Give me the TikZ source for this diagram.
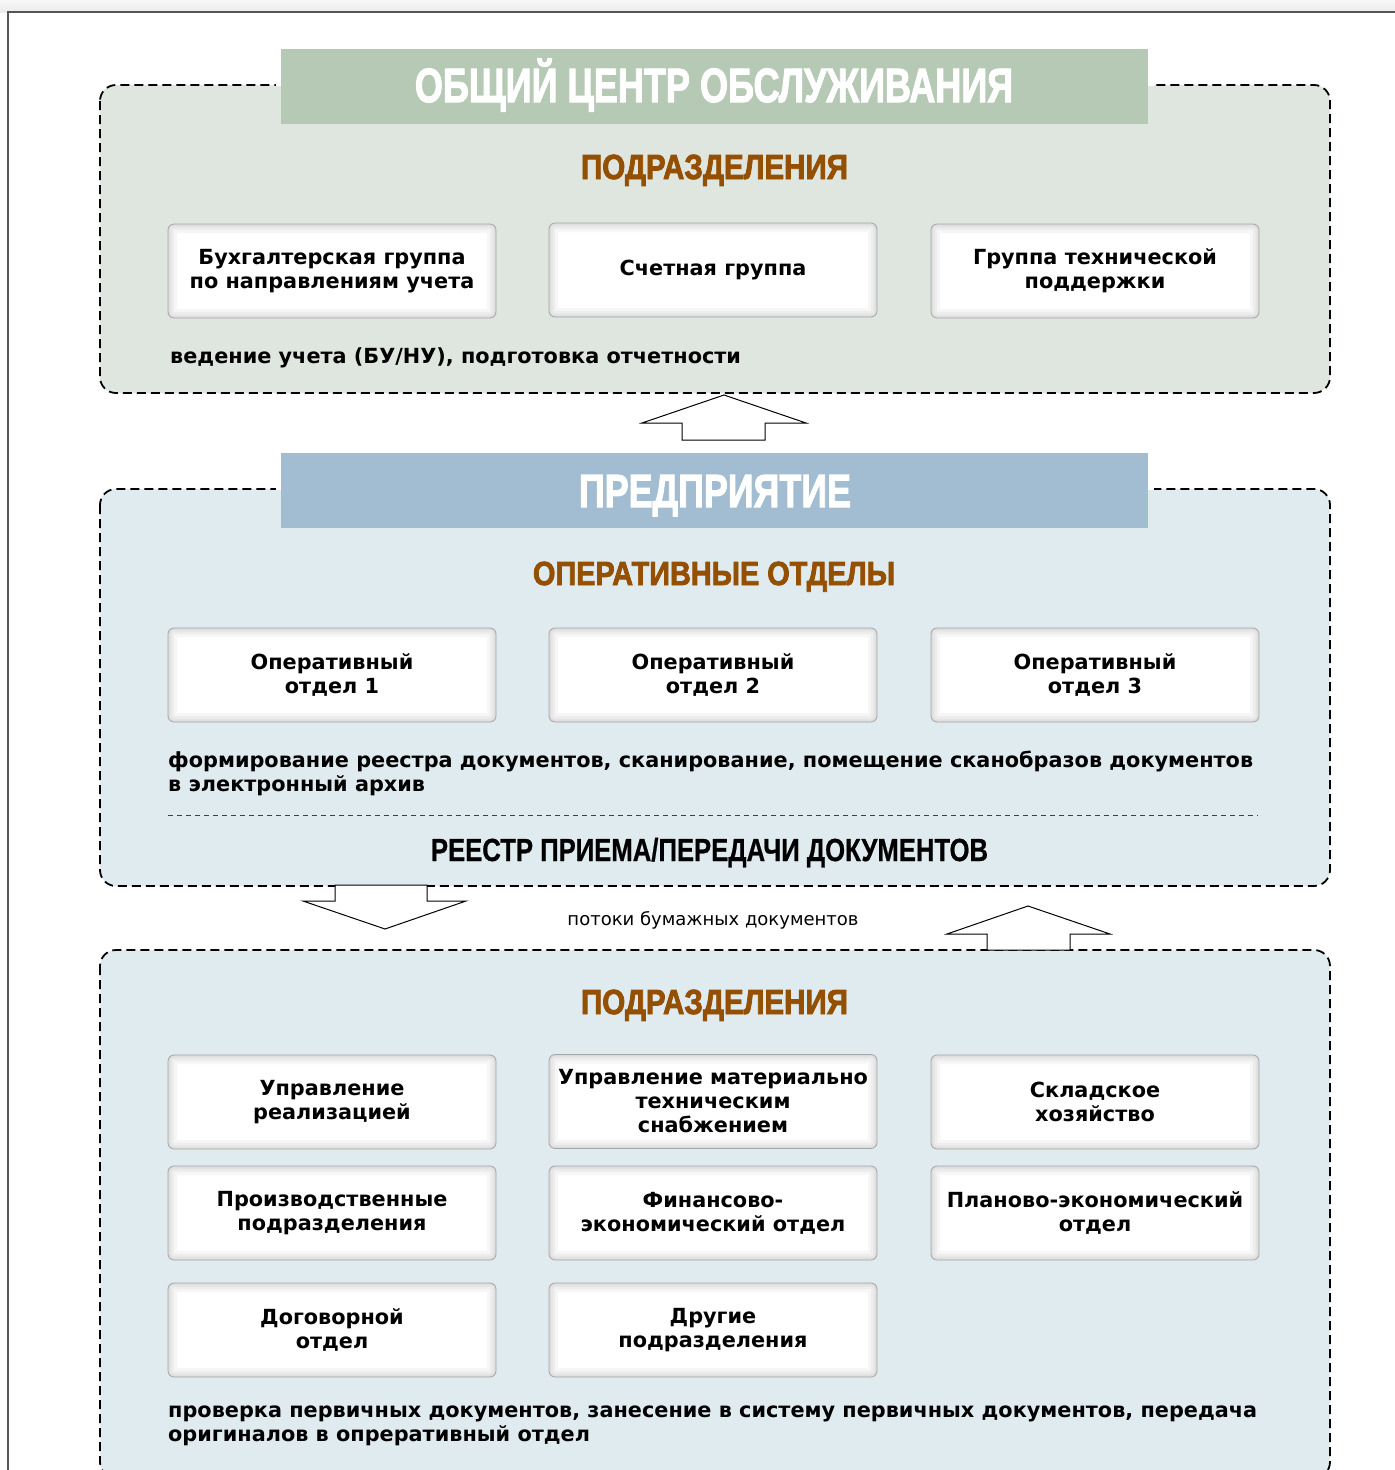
\documentclass[tikz,border=0pt]{standalone}
\usepackage{fontspec}
\usepackage{graphicx}
\setmainfont{DejaVu Sans}
\newfontfamily\hfnt{Liberation Sans}[BoldFeatures={FakeBold=2.5}]
\newfontfamily\rfnt{Liberation Sans}[BoldFeatures={FakeBold=0.8}]
\newfontfamily\bodyf{DejaVu Sans}
\definecolor{greenbg}{HTML}{DFE6DF}
\definecolor{greenhd}{HTML}{B5C9B5}
\definecolor{bluebg}{HTML}{E0EBF0}
\definecolor{bluehd}{HTML}{A2BCD1}
\definecolor{brownt}{HTML}{944F00}
\definecolor{framec}{HTML}{555555}
\newcommand\hdrtext[3]{\resizebox{#1pt}{#2pt}{\hfnt\bfseries\vphantom{H}\smash{#3}}}
\newcommand\regtext[3]{\resizebox{#1pt}{#2pt}{\rfnt\bfseries\vphantom{H}\smash{#3}}}
\newcommand\boxfont{\bodyf\bfseries\fontsize{20.8}{24}\selectfont}
\tikzset{
  panel/.style={draw=black, line width=1.8pt, dash pattern=on 9pt off 5pt, rounded corners=16pt},
  hdrband/.style={inner sep=0pt, minimum width=867pt, minimum height=75pt, draw=none},
  hdrlabel/.style={inner sep=0pt, anchor=base, text=white},
  seclabel/.style={inner sep=0pt, anchor=base, text=brownt},
  body/.style={inner sep=0pt, anchor=base west, align=left, font=\boxfont},
  ubox/.style={rounded corners=6pt, draw=black!35, line width=0.8pt, fill=white,
    minimum width=328pt, minimum height=94pt, align=center, font=\boxfont, inner sep=0pt,
    path picture={
      \foreach \w in {18,12,7,3}
        \draw[black, opacity=0.035, line width=\w pt, rounded corners=6pt]
          (path picture bounding box.north west) rectangle (path picture bounding box.south east);
    }},
  blockarrow/.style={draw=black, line width=1pt, fill=white, line join=miter}
}
\begin{document}
\begin{tikzpicture}[x=1pt, y=-1pt]
\useasboundingbox (0,0) rectangle (1395,1470);
% top strip and outer frame
\shade[top color=black!3, bottom color=black!8] (0,0) rectangle (1395,12);
\fill[white] (8,12) rectangle (1395,1470);
\draw[framec, line width=1.2pt] (8,1470) -- (8,12) -- (1395,12);

% ===== panel 1 =====
\draw[panel, fill=greenbg] (100,85) rectangle (1330,393);
\fill[white] (276,80) rectangle (1154,86.2);
\node[hdrband, fill=greenhd] (h1) at (714.5,86.5) {};
\node[hdrlabel] (h1t) at (714,102) {\hdrtext{598}{33}{ОБЩИЙ ЦЕНТР ОБСЛУЖИВАНИЯ}};
\node[seclabel] (s1) at (714.5,179) {\hdrtext{267}{24}{ПОДРАЗДЕЛЕНИЯ}};
\node[ubox] (a1) at (332,271) {Бухгалтерская группа\\по направлениям учета};
\node[ubox] (a2) at (713,270) {Счетная группа};
\node[ubox] (a3) at (1095,271) {Группа технической\\поддержки};
\node[body] (t1) at (170,363) {ведение учета (БУ/НУ), подготовка отчетности};

% arrow up between panel 1 and 2
\draw[blockarrow] (724,395) -- (806,423) -- (765,423) -- (765,440) -- (682,440) -- (682,423) -- (642,423) -- cycle;

% ===== panel 2 =====
\draw[panel, fill=bluebg] (100,489) rectangle (1330,886);
\fill[white] (276,484) rectangle (1154,490.2);
\node[hdrband, fill=bluehd] (h2) at (714.5,490) {};
\node[hdrlabel] (h2t) at (715,507) {\hdrtext{272}{32}{ПРЕДПРИЯТИЕ}};
\node[seclabel] (s2) at (714,585) {\hdrtext{362}{23}{ОПЕРАТИВНЫЕ ОТДЕЛЫ}};
\node[ubox] (b1) at (332,675) {Оперативный\\отдел 1};
\node[ubox] (b2) at (713,675) {Оперативный\\отдел 2};
\node[ubox] (b3) at (1095,675) {Оперативный\\отдел 3};
\node[body] (t2) at (168,791) {формирование реестра документов, сканирование, помещение сканобразов документов\\в электронный архив};
\draw[black!75, line width=0.9pt, dash pattern=on 5pt off 4pt] (168,815) -- (1258,815);
\node[inner sep=0pt, anchor=base] (reg) at (709.5,861) {\regtext{557}{22}{РЕЕСТР ПРИЕМА/ПЕРЕДАЧИ ДОКУМЕНТОВ}};

% flows between panel 2 and 3
\draw[blockarrow] (335,885) -- (427,885) -- (427,901) -- (466,901) -- (385,929) -- (303,901) -- (335,901) -- cycle;
\node[inner sep=0pt, anchor=base, font=\bodyf\fontsize{18}{22}\selectfont] (flow) at (713,925) {потоки бумажных документов};

% ===== panel 3 =====
\draw[panel, fill=bluebg] (100,950) rectangle (1330,1478);
\draw[blockarrow] (1028,906) -- (1110,934) -- (1070,934) -- (1070,950) -- (987,950) -- (987,934) -- (947,934) -- cycle;
\node[seclabel] (s3) at (714.5,1014) {\hdrtext{267}{24}{ПОДРАЗДЕЛЕНИЯ}};
\node[ubox] (c1) at (332,1102) {Управление\\реализацией};
\node[ubox] (c2) at (713,1101.5) {Управление материально\\техническим\\снабжением};
\node[ubox] (c3) at (1095,1102) {Складское\\хозяйство};
\node[ubox] (c4) at (332,1213) {Производственные\\подразделения};
\node[ubox] (c5) at (713,1213) {Финансово-\\экономический отдел};
\node[ubox] (c6) at (1095,1213) {Планово-экономический\\отдел};
\node[ubox] (c7) at (332,1330) {Договорной\\отдел};
\node[ubox] (c8) at (713,1330) {Другие\\подразделения};
\node[body] (t3) at (168,1441) {проверка первичных документов, занесение в систему первичных документов, передача\\оригиналов в опреративный отдел};
\end{tikzpicture}
\end{document}
